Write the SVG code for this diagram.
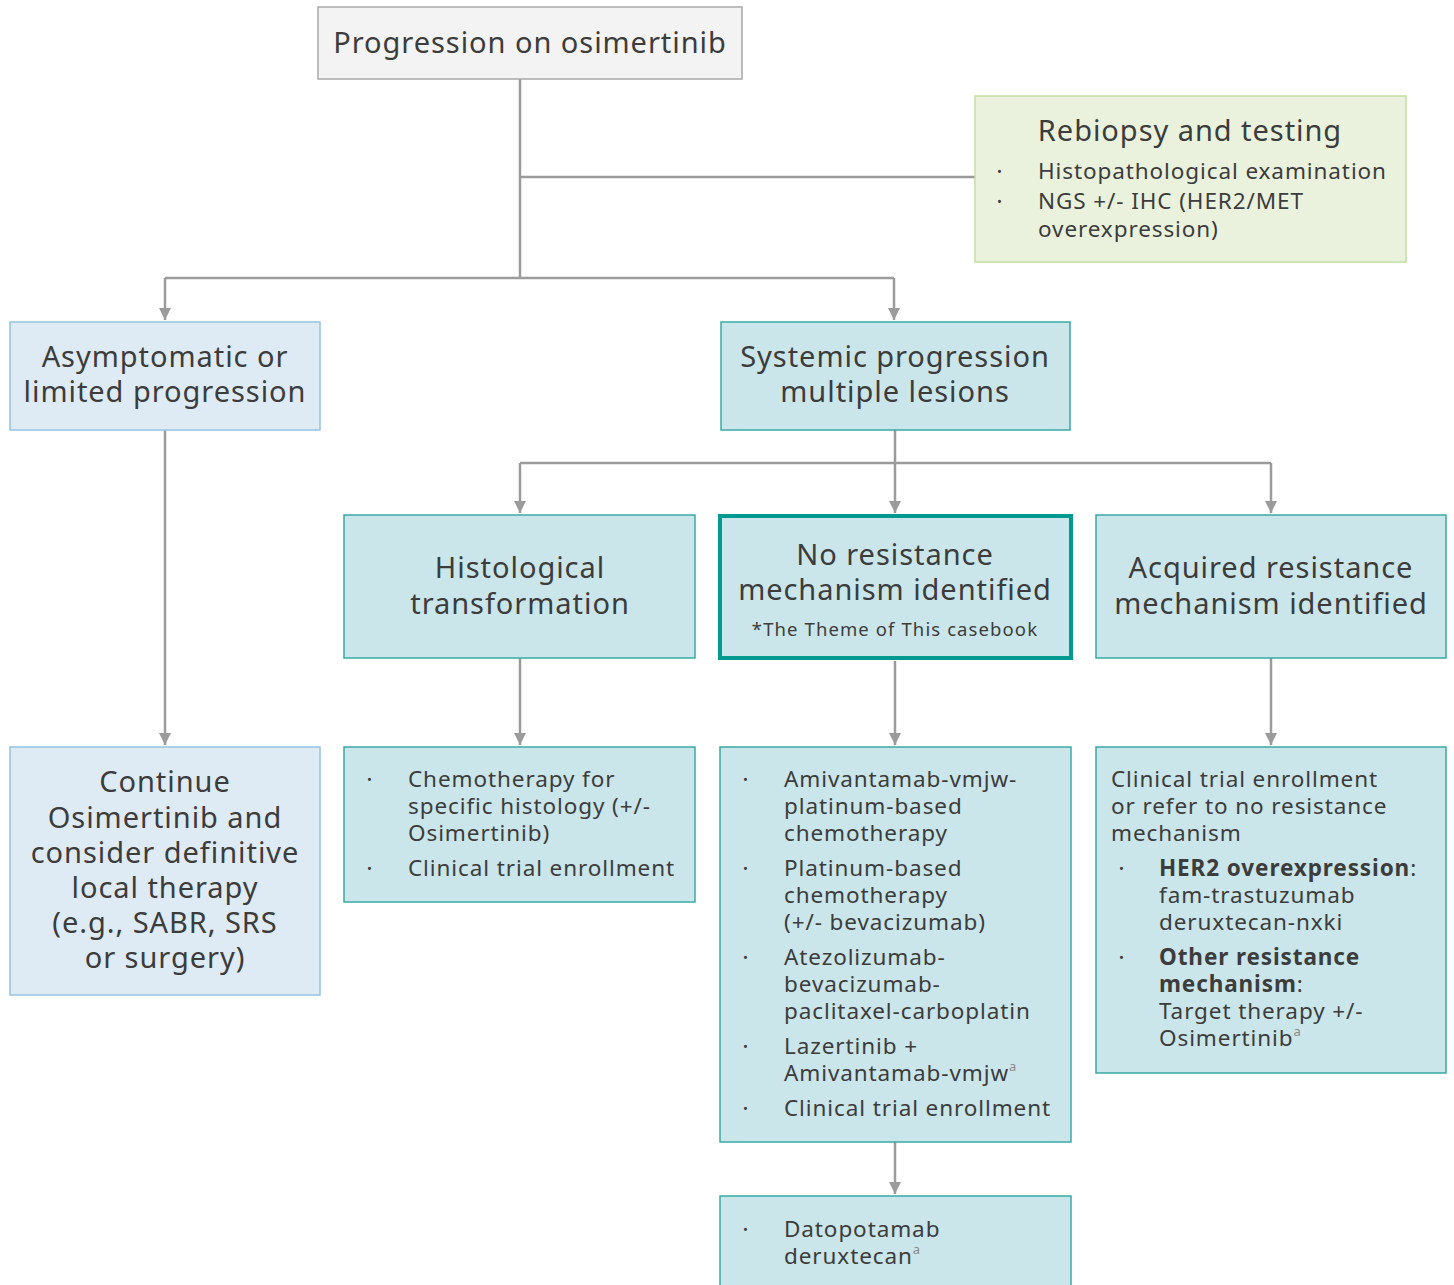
<svg xmlns="http://www.w3.org/2000/svg" width="1454" height="1285" viewBox="0 0 1454 1285">
<style>
text{font-family:"Noto Sans","Liberation Sans",sans-serif;fill:#3c3c3c}
.t{font-size:29px;text-anchor:middle;letter-spacing:0.95px}
.b{font-size:22.5px;letter-spacing:0.9px}
.s{font-size:18.5px;text-anchor:middle;letter-spacing:1.1px}
.d{font-size:13px}
.sup{font-size:13px;fill:#8a8a8a;letter-spacing:0}
.bold{font-weight:700}
.grey{fill:#f2f3f2;stroke:#a9a9a9;stroke-width:1.5}
.green{fill:#eaf2dd;stroke:#c3e0a2;stroke-width:1.5}
.lb{fill:#deebf5;stroke:#98c2e0;stroke-width:1.5}
.tl{fill:#cae6ea;stroke:#3aaaa5;stroke-width:1.5}
.hl{fill:#cae6ea;stroke:#009990;stroke-width:4}
.c{fill:none;stroke:#9b9b9b;stroke-width:2.5}
</style>
<defs>
<marker id="ah" viewBox="0 0 10 10" refX="10" refY="5" markerWidth="5" markerHeight="5" markerUnits="strokeWidth" orient="auto">
<path d="M0,0 L10,5 L0,10 z" fill="#9b9b9b"/>
</marker>
</defs>
<g id="connectors">
<path class="c" d="M520,79 V278"/>
<path class="c" d="M520,177 H975"/>
<path class="c" d="M165,278 H894"/>
<path class="c" d="M165,278 V320" marker-end="url(#ah)"/>
<path class="c" d="M894,278 V320" marker-end="url(#ah)"/>
<path class="c" d="M895,430 V463"/>
<path class="c" d="M520,463 H1271"/>
<path class="c" d="M520,463 V513" marker-end="url(#ah)"/>
<path class="c" d="M895,463 V513" marker-end="url(#ah)"/>
<path class="c" d="M1271,463 V513" marker-end="url(#ah)"/>
<path class="c" d="M165,430 V745" marker-end="url(#ah)"/>
<path class="c" d="M520,658 V745" marker-end="url(#ah)"/>
<path class="c" d="M895,661 V745" marker-end="url(#ah)"/>
<path class="c" d="M1271,658 V745" marker-end="url(#ah)"/>
<path class="c" d="M895,1142 V1194" marker-end="url(#ah)"/>
</g>
<g id="n-progression">
<rect class="grey" x="318" y="7" width="424" height="72"/>
<text class="t" x="530" y="53">Progression on osimertinib</text>
</g>
<g id="n-rebiopsy">
<rect class="green" x="975" y="96" width="431" height="166"/>
<text class="t" x="1190" y="141">Rebiopsy and testing</text>
<text class="d" x="997" y="176">•</text>
<text class="b" x="1038" y="179">Histopathological examination</text>
<text class="d" x="997" y="206">•</text>
<text class="b" x="1038" y="209">NGS +/- IHC (HER2/MET</text>
<text class="b" x="1038" y="237">overexpression)</text>
</g>
<g id="n-asymptomatic">
<rect class="lb" x="10" y="322" width="310" height="108"/>
<text class="t" x="165" y="367">Asymptomatic or</text>
<text class="t" x="165" y="402">limited progression</text>
</g>
<g id="n-systemic">
<rect class="tl" x="721" y="322" width="349" height="108"/>
<text class="t" x="895" y="367">Systemic progression</text>
<text class="t" x="895" y="402">multiple lesions</text>
</g>
<g id="n-histological">
<rect class="tl" x="344" y="515" width="351" height="143"/>
<text class="t" x="520" y="578">Histological</text>
<text class="t" x="520" y="614">transformation</text>
</g>
<g id="n-noresistance">
<rect class="hl" x="720" y="516" width="351" height="142"/>
<text class="t" x="895" y="565">No resistance</text>
<text class="t" x="895" y="600">mechanism identified</text>
<text class="s" x="895" y="636">*The Theme of This casebook</text>
</g>
<g id="n-acquired">
<rect class="tl" x="1096" y="515" width="350" height="143"/>
<text class="t" x="1271" y="578">Acquired resistance</text>
<text class="t" x="1271" y="614">mechanism identified</text>
</g>
<g id="n-continue">
<rect class="lb" x="10" y="747" width="310" height="248"/>
<text class="t" x="165" y="792">Continue</text>
<text class="t" x="165" y="828">Osimertinib and</text>
<text class="t" x="165" y="863">consider definitive</text>
<text class="t" x="165" y="898">local therapy</text>
<text class="t" x="165" y="933">(e.g., SABR, SRS</text>
<text class="t" x="165" y="968">or surgery)</text>
</g>
<g id="n-chemo">
<rect class="tl" x="344" y="747" width="351" height="155"/>
<text class="d" x="367" y="784">•</text>
<text class="b" x="408" y="787">Chemotherapy for</text>
<text class="b" x="408" y="814">specific histology (+/-</text>
<text class="b" x="408" y="841">Osimertinib)</text>
<text class="d" x="367" y="873">•</text>
<text class="b" x="408" y="876">Clinical trial enrollment</text>
</g>
<g id="n-amivantamab">
<rect class="tl" x="720" y="747" width="351" height="395"/>
<text class="d" x="743" y="784">•</text>
<text class="b" x="784" y="787">Amivantamab-vmjw-</text>
<text class="b" x="784" y="814">platinum-based</text>
<text class="b" x="784" y="841">chemotherapy</text>
<text class="d" x="743" y="873">•</text>
<text class="b" x="784" y="876">Platinum-based</text>
<text class="b" x="784" y="903">chemotherapy</text>
<text class="b" x="784" y="930">(+/- bevacizumab)</text>
<text class="d" x="743" y="962">•</text>
<text class="b" x="784" y="965">Atezolizumab-</text>
<text class="b" x="784" y="992">bevacizumab-</text>
<text class="b" x="784" y="1019">paclitaxel-carboplatin</text>
<text class="d" x="743" y="1051">•</text>
<text class="b" x="784" y="1054">Lazertinib +</text>
<text class="b" x="784" y="1081">Amivantamab-vmjw<tspan class="sup" dy="-10">a</tspan></text>
<text class="d" x="743" y="1113">•</text>
<text class="b" x="784" y="1116">Clinical trial enrollment</text>
</g>
<g id="n-clinicaltrial">
<rect class="tl" x="1096" y="747" width="350" height="326"/>
<text class="b" x="1111" y="787">Clinical trial enrollment</text>
<text class="b" x="1111" y="814">or refer to no resistance</text>
<text class="b" x="1111" y="841">mechanism</text>
<text class="d" x="1119" y="873">•</text>
<text class="b" x="1159" y="876"><tspan class="bold">HER2 overexpression</tspan>:</text>
<text class="b" x="1159" y="903">fam-trastuzumab</text>
<text class="b" x="1159" y="930">deruxtecan-nxki</text>
<text class="d" x="1119" y="962">•</text>
<text class="b bold" x="1159" y="965">Other resistance</text>
<text class="b" x="1159" y="992"><tspan class="bold">mechanism</tspan>:</text>
<text class="b" x="1159" y="1019">Target therapy +/-</text>
<text class="b" x="1159" y="1046">Osimertinib<tspan class="sup" dy="-10">a</tspan></text>
</g>
<g id="n-datopotamab">
<rect class="tl" x="720" y="1196" width="351" height="100"/>
<text class="d" x="743" y="1234">•</text>
<text class="b" x="784" y="1237">Datopotamab</text>
<text class="b" x="784" y="1264">deruxtecan<tspan class="sup" dy="-10">a</tspan></text>
</g>
</svg>
